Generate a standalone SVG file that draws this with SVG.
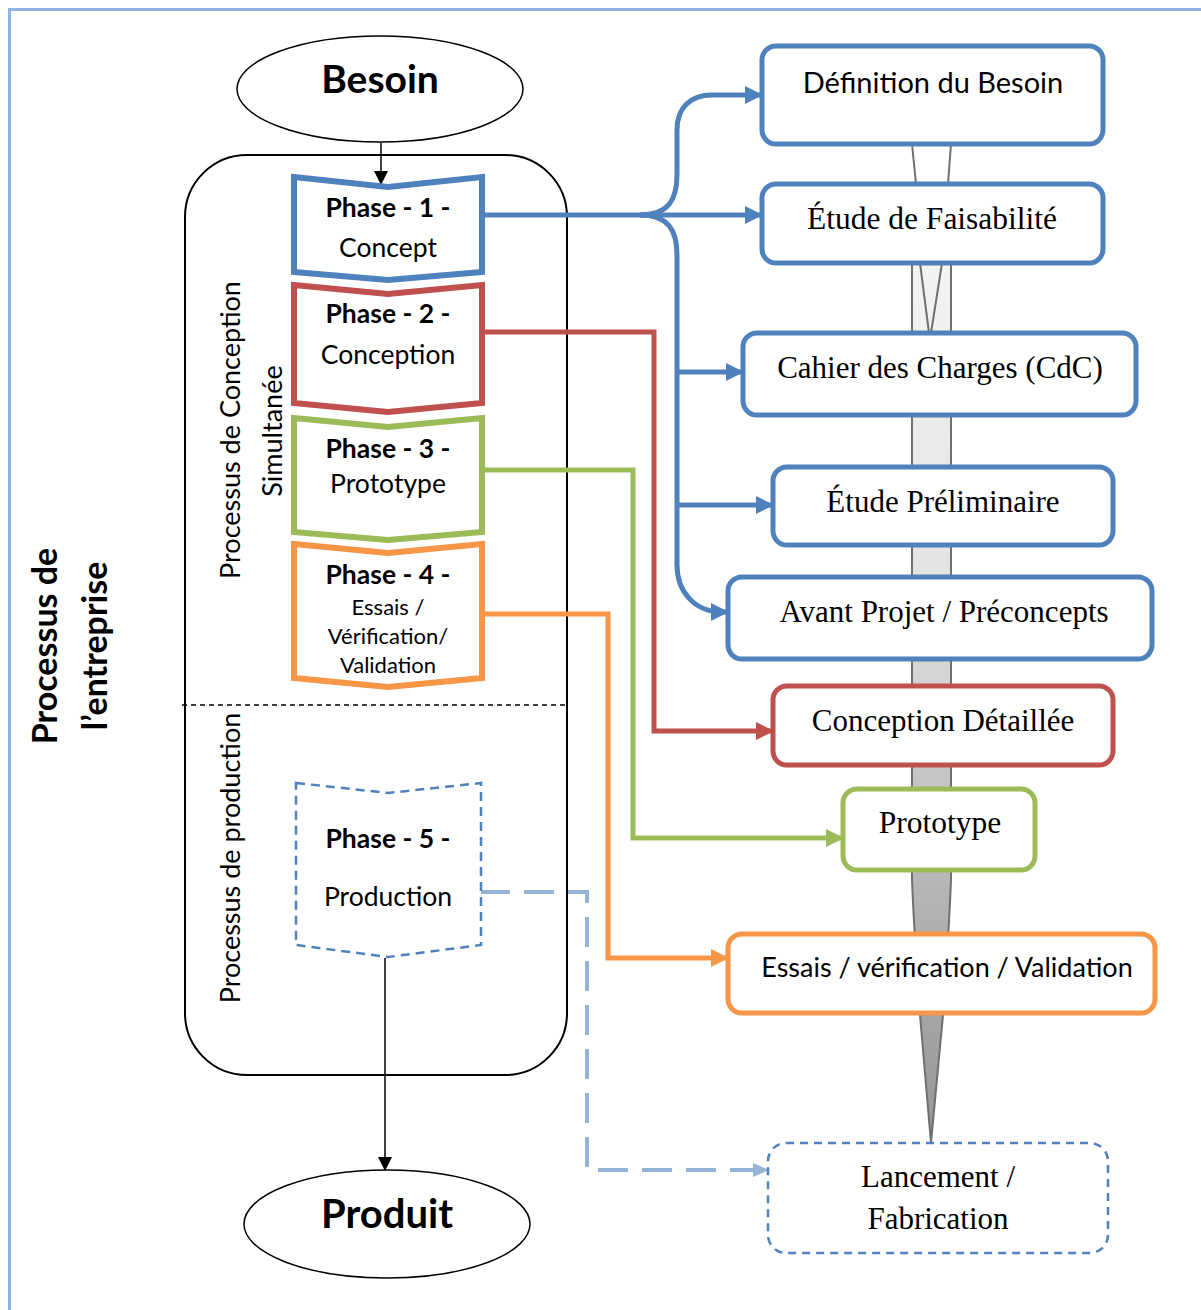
<svg xmlns="http://www.w3.org/2000/svg" width="1201" height="1310" viewBox="0 0 1201 1310">
  <style>
    .sans { font-family: Lato, "Open Sans", "Liberation Sans", sans-serif; fill: #000; }
    .serif { font-family: "Liberation Serif", "Times New Roman", serif; fill: #000; }
    .bold { font-weight: bold; }
    .mid { text-anchor: middle; }
    .box { fill: #fff; stroke-width: 5; }
    .phase { fill: #fff; stroke-width: 6; stroke-linejoin: miter; }
    .blue { stroke: #4F81BD; }
    .red { stroke: #C0504D; }
    .green { stroke: #9BBB59; }
    .orange { stroke: #F79646; }
    .link { fill: none; stroke-width: 5; }
  </style>
  <defs>
    <linearGradient id="spikeFill" x1="0" y1="140" x2="0" y2="1143" gradientUnits="userSpaceOnUse">
      <stop offset="0" stop-color="#fafafa"/>
      <stop offset="0.45" stop-color="#e2e2e2"/>
      <stop offset="0.75" stop-color="#b4b4b4"/>
      <stop offset="1" stop-color="#959595"/>
    </linearGradient>
    <marker id="arrBlue" markerUnits="userSpaceOnUse" viewBox="0 0 18 18" markerWidth="18" markerHeight="18" refX="17" refY="9" orient="auto">
      <path d="M0,0 L18,9 L0,18 Z" fill="#4F81BD"/>
    </marker>
    <marker id="arrRed" markerUnits="userSpaceOnUse" viewBox="0 0 18 18" markerWidth="18" markerHeight="18" refX="17" refY="9" orient="auto">
      <path d="M0,0 L18,9 L0,18 Z" fill="#C0504D"/>
    </marker>
    <marker id="arrGreen" markerUnits="userSpaceOnUse" viewBox="0 0 18 18" markerWidth="18" markerHeight="18" refX="17" refY="9" orient="auto">
      <path d="M0,0 L18,9 L0,18 Z" fill="#9BBB59"/>
    </marker>
    <marker id="arrOrange" markerUnits="userSpaceOnUse" viewBox="0 0 18 18" markerWidth="18" markerHeight="18" refX="17" refY="9" orient="auto">
      <path d="M0,0 L18,9 L0,18 Z" fill="#F79646"/>
    </marker>
    <marker id="arrLight" markerUnits="userSpaceOnUse" viewBox="0 0 16 16" markerWidth="16" markerHeight="16" refX="15" refY="8" orient="auto">
      <path d="M0,1 L16,8 L0,15 Z" fill="#95B3D7"/>
    </marker>
    <marker id="arrBlack" markerUnits="userSpaceOnUse" viewBox="0 0 14 14" markerWidth="14" markerHeight="14" refX="13" refY="7" orient="auto">
      <path d="M0,0 L14,7 L0,14 Z" fill="#000"/>
    </marker>
  </defs>

  <rect width="1201" height="1310" fill="#fff"/>

  <!-- outer frame -->
  <rect x="9.5" y="9.5" width="1200" height="1310" fill="none" stroke="#8EB4E3" stroke-width="3"/>

  <!-- side titles -->
  <g id="title-entreprise" class="sans bold" font-size="34">
    <text class="mid" transform="translate(57,646) rotate(-90)">Processus de</text>
    <text class="mid" transform="translate(107,646) rotate(-90)">l’entreprise</text>
  </g>

  <!-- spike behind the right-hand boxes -->
  <g id="spike" stroke="#707070" stroke-width="2">
    <path d="M912,250 L912,880 Q914,930 920,1015 L931,1143 L943,1015 Q949,930 951,880 L951,250 Z" fill="url(#spikeFill)"/>
    <path d="M912,144 L916,184 M951,144 L948,184" fill="none"/>
    <path d="M920,263 L929,333 M942,263 L931,333" fill="none"/>
  </g>

  <!-- process container -->
  <g id="process-container">
    <rect x="185" y="155" width="382" height="920" rx="62" fill="none" stroke="#000" stroke-width="2"/>
    <line x1="182" y1="705" x2="567" y2="705" stroke="#000" stroke-width="1.5" stroke-dasharray="5,4"/>
    <text class="sans" font-size="27" text-anchor="middle" transform="translate(240,430) rotate(-90)">Processus de Conception</text>
    <text class="sans" font-size="27" text-anchor="middle" transform="translate(282,431) rotate(-90)">Simultanée</text>
    <text class="sans" font-size="27" text-anchor="middle" transform="translate(240,858) rotate(-90)">Processus de production</text>
  </g>

  <!-- connectors -->
  <g id="connectors">
    <line x1="381" y1="143" x2="381" y2="184" stroke="#000" stroke-width="1.5" marker-end="url(#arrBlack)"/>
    <line x1="385" y1="958" x2="385" y2="1170" stroke="#000" stroke-width="1.5" marker-end="url(#arrBlack)"/>

    <path class="link blue" d="M482,215 L762,215" marker-end="url(#arrBlue)"/>
    <path class="link blue" d="M640,215 C668,215 677,200 677,175 L677,130 C677,108 690,95 712,95 L762,95" marker-end="url(#arrBlue)"/>
    <path class="link blue" d="M640,215 C668,215 677,230 677,255 L677,565 C677,592 695,612 722,612 L728,612" marker-end="url(#arrBlue)"/>
    <path class="link blue" d="M677,372 L743,372" marker-end="url(#arrBlue)"/>
    <path class="link blue" d="M677,505 L773,505" marker-end="url(#arrBlue)"/>

    <path class="link red" d="M482,332 L654,332 L654,731 L773,731" marker-end="url(#arrRed)"/>
    <path class="link green" d="M482,470 L633,470 L633,838 L843,838" marker-end="url(#arrGreen)"/>
    <path class="link orange" d="M482,614 L608,614 L608,958 L728,958" marker-end="url(#arrOrange)"/>
    <path d="M480,892 L587,892 L587,1170 L768,1170" fill="none" stroke="#95B3D7" stroke-width="4" stroke-dasharray="30,14" marker-end="url(#arrLight)"/>
  </g>

  <!-- start / end -->
  <g id="besoin">
    <ellipse cx="380" cy="89" rx="143" ry="53" fill="#fff" stroke="#000" stroke-width="1.5"/>
    <text class="sans bold mid" x="380" y="93" font-size="39">Besoin</text>
  </g>
  <g id="produit">
    <ellipse cx="387" cy="1224" rx="143" ry="54" fill="#fff" stroke="#000" stroke-width="1.5"/>
    <text class="sans bold mid" x="387" y="1228" font-size="40">Produit</text>
  </g>

  <!-- phases -->
  <g id="phase1">
    <path class="phase blue" d="M294,177 L388,187 L482,177 L482,272 L388,280 L294,272 Z"/>
    <text class="sans bold mid" x="388" y="217" font-size="26.5">Phase - 1 -</text>
    <text class="sans mid" x="388" y="257" font-size="26.5">Concept</text>
  </g>
  <g id="phase2">
    <path class="phase red" d="M294,285 L388,294 L482,285 L482,403 L388,412 L294,403 Z"/>
    <text class="sans bold mid" x="388" y="323" font-size="26.5">Phase - 2 -</text>
    <text class="sans mid" x="388" y="364" font-size="26.5">Conception</text>
  </g>
  <g id="phase3">
    <path class="phase green" d="M294,418 L388,427 L482,418 L482,532 L388,540 L294,532 Z"/>
    <text class="sans bold mid" x="388" y="458" font-size="26.5">Phase - 3 -</text>
    <text class="sans mid" x="388" y="493" font-size="26.5">Prototype</text>
  </g>
  <g id="phase4">
    <path class="phase orange" d="M294,544 L388,553 L482,544 L482,678 L388,687 L294,678 Z"/>
    <text class="sans bold mid" x="388" y="584" font-size="26.5">Phase - 4 -</text>
    <text class="sans mid" x="388" y="615" font-size="22">Essais /</text>
    <text class="sans mid" x="388" y="644" font-size="22">Vérification/</text>
    <text class="sans mid" x="388" y="673" font-size="22">Validation</text>
  </g>
  <g id="phase5">
    <path d="M296,783 L388,793 L481,783 L481,945 L388,957 L296,945 Z" fill="#fff" stroke="#4F81BD" stroke-width="2.5" stroke-dasharray="9,6"/>
    <text class="sans bold mid" x="388" y="848" font-size="26.5">Phase - 5 -</text>
    <text class="sans mid" x="388" y="906" font-size="26.5">Production</text>
  </g>

  <!-- stage boxes -->
  <g id="definition-besoin">
    <rect class="box blue" x="762" y="46" width="341" height="98" rx="14"/>
    <text class="sans mid" x="933" y="93" font-size="29">Définition du Besoin</text>
  </g>
  <g id="etude-faisabilite">
    <rect class="box blue" x="762" y="184" width="341" height="79" rx="14"/>
    <text class="serif mid" x="932" y="229" font-size="31.5">Étude de Faisabilité</text>
  </g>
  <g id="cahier-charges">
    <rect class="box blue" x="743" y="333" width="393" height="82" rx="14"/>
    <text class="serif mid" x="940" y="378" font-size="31">Cahier des Charges (CdC)</text>
  </g>
  <g id="etude-preliminaire">
    <rect class="box blue" x="773" y="467" width="340" height="78" rx="14"/>
    <text class="serif mid" x="943" y="512" font-size="31">Étude Préliminaire</text>
  </g>
  <g id="avant-projet">
    <rect class="box blue" x="728" y="577" width="424" height="82" rx="14"/>
    <text class="serif mid" x="944" y="622" font-size="31">Avant Projet / Préconcepts</text>
  </g>
  <g id="conception-detaillee">
    <rect class="box red" x="773" y="686" width="340" height="79" rx="14"/>
    <text class="serif mid" x="943" y="731" font-size="31">Conception Détaillée</text>
  </g>
  <g id="prototype">
    <rect class="box green" x="843" y="789" width="192" height="81" rx="14"/>
    <text class="serif mid" x="940" y="833" font-size="31.5">Prototype</text>
  </g>
  <g id="essais">
    <rect class="box orange" x="728" y="934" width="427" height="79" rx="14"/>
    <text class="sans mid" x="947" y="977" font-size="27">Essais / vérification / Validation</text>
  </g>
  <g id="lancement">
    <rect x="768" y="1143" width="340" height="110" rx="18" fill="#fff" stroke="#4F81BD" stroke-width="2.5" stroke-dasharray="8,6"/>
    <text class="serif mid" x="938" y="1187" font-size="31">Lancement /</text>
    <text class="serif mid" x="938" y="1229" font-size="31">Fabrication</text>
  </g>
</svg>
